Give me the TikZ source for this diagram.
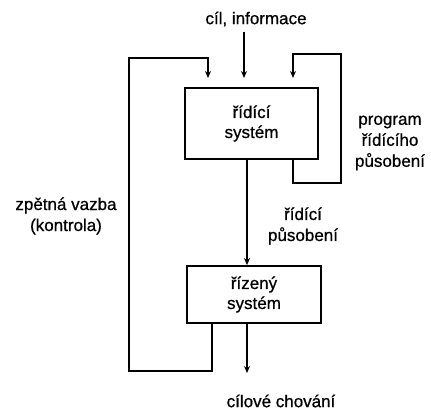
\documentclass[tikz,border=0pt]{standalone}
\usepackage{fontspec}
\setmainfont{Liberation Sans}[FakeBold=0.7]
\usetikzlibrary{arrows.meta}
\begin{document}
\begin{tikzpicture}[x=1pt,y=-1pt,
  line/.style={line width=1.8pt, line join=miter},
  arr/.style={line, -{Stealth[length=7pt,width=6pt]}},
  blk/.style={draw, line width=1.8pt, inner sep=0pt, align=center, font=\fontsize{17}{20}\selectfont},
  lbl/.style={inner sep=0pt, align=center, font=\fontsize{17}{21}\selectfont}]
\useasboundingbox (0,0) rectangle (431,412);
\node[blk, minimum width=133pt, minimum height=71pt] (rs) at (251.5,123.5) {řídící\\systém};
\node[blk, minimum width=134pt, minimum height=57pt] (zs) at (254,294.5) {řízený\\systém};
\node[lbl] (cil) at (256,19) {cíl, informace};
\node[lbl] (prog) at (390,143) {program\\řídícího\\působení};
\node[lbl] (rp) at (303,226) {řídící\\působení};
\node[lbl] (zv) at (66,216) {zpětná vazba\\(kontrola)};
\node[lbl] (ch) at (281,401) {cílové chování};
\coordinate (a1) at (244,32);
\coordinate (a2) at (244,78);
\coordinate (f1) at (208,78);
\coordinate (p1) at (293,78);
\coordinate (o1) at (247,373);
% input
\draw[arr] (a1) -- (a2);
% control action
\draw[arr] (rs.south -| 247,0) -- (zs.north -| 247,0);
% output
\draw[arr] (zs.south -| o1) -- (o1);
% feedback
\draw[arr] (zs.south -| 212,0) -- (212,371) -- (129,371) -- (129,58) -| (f1);
% program loop
\draw[arr] (rs.south -| 293,0) -- (293,183) -- (341,183) -- (341,54) -- (293,54) -- (p1);
\end{tikzpicture}
\end{document}
